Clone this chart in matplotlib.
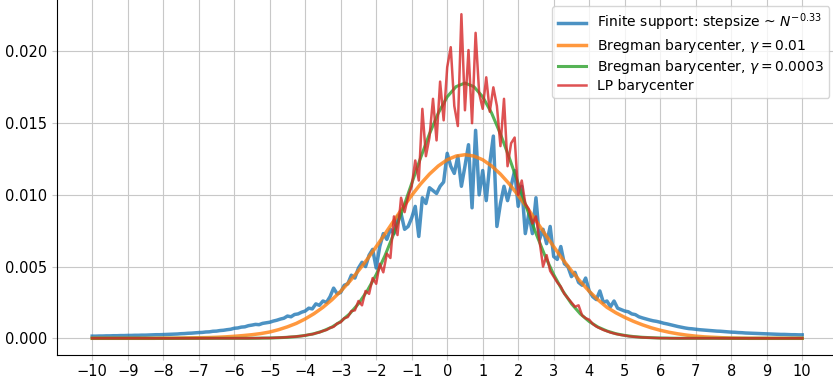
import numpy as np
import matplotlib
matplotlib.use("Agg")
import matplotlib.pyplot as plt

# grids on which the densities are given
x_fine = np.round(np.arange(-10, 10.001, 0.1), 2)      # 201 points
x_smooth = np.round(np.arange(-10, 10.001, 0.25), 2)   # 81 points

# finite support (noisy) density
finite_support = [
    0.00015, 0.00015, 0.00016, 0.00016, 0.00017, 0.00017, 0.00018, 0.00018, 0.00019, 0.00019,
    0.00020, 0.00020, 0.00021, 0.00021, 0.00022, 0.00022, 0.00023, 0.00024, 0.00025, 0.00025,
    0.00026, 0.00027, 0.00028, 0.00029, 0.00030, 0.00032, 0.00033, 0.00035, 0.00036, 0.00038,
    0.00040, 0.00041, 0.00044, 0.00045, 0.00049, 0.00050, 0.00054, 0.00056, 0.00060, 0.00063,
    0.00070, 0.00072, 0.00078, 0.00080, 0.00088, 0.00092, 0.00097, 0.00095, 0.00104, 0.00108,
    0.00112, 0.00120, 0.00126, 0.00134, 0.00140, 0.00155, 0.00150, 0.00166, 0.00170, 0.00182,
    0.00190, 0.00210, 0.00205, 0.00240, 0.00230, 0.00260, 0.00250, 0.00290, 0.00350, 0.00310,
    0.00320, 0.00370, 0.00380, 0.00440, 0.00420, 0.00490, 0.00530, 0.00500, 0.00580, 0.00620,
    0.00490, 0.00640, 0.00730, 0.00690, 0.00760, 0.00730, 0.00850, 0.00870, 0.00760, 0.00780,
    0.00840, 0.00920, 0.00710, 0.00980, 0.00940, 0.01050, 0.01030, 0.01010, 0.01060, 0.01090,
    0.01290, 0.01200, 0.01150, 0.01270, 0.01060, 0.01200, 0.01350, 0.00910, 0.01450, 0.01000,
    0.01170, 0.00960, 0.01220, 0.01410, 0.00780, 0.00940, 0.01060, 0.00960, 0.01060, 0.01170,
    0.00920, 0.01060, 0.00730, 0.00870, 0.00730, 0.00980, 0.00690, 0.00760, 0.00660, 0.00780,
    0.00570, 0.00550, 0.00640, 0.00520, 0.00500, 0.00430, 0.00460, 0.00390, 0.00370, 0.00420,
    0.00330, 0.00290, 0.00270, 0.00330, 0.00250, 0.00260, 0.00220, 0.00260, 0.00210, 0.00200,
    0.00190, 0.00185, 0.00170, 0.00165, 0.00150, 0.00142, 0.00135, 0.00128, 0.00122, 0.00118,
    0.00112, 0.00105, 0.00100, 0.00094, 0.00088, 0.00082, 0.00077, 0.00072, 0.00068, 0.00066,
    0.00063, 0.00060, 0.00058, 0.00056, 0.00054, 0.00052, 0.00050, 0.00049, 0.00047, 0.00045,
    0.00043, 0.00042, 0.00040, 0.00039, 0.00037, 0.00036, 0.00035, 0.00034, 0.00033, 0.00032,
    0.00031, 0.00030, 0.00029, 0.00028, 0.00027, 0.00027, 0.00026, 0.00025, 0.00025, 0.00024,
    0.00024,
]

# Bregman barycenter, gamma = 0.01
bregman_01 = [
    0, 0, 0, 0, 0, 0, 0, 0, 0.00001, 0.00001,
    0.00002, 0.00003, 0.00004, 0.00005, 0.00007, 0.00010, 0.00014, 0.00019, 0.00025, 0.00033,
    0.00044, 0.00060, 0.00080, 0.00104, 0.00135, 0.00172, 0.00216, 0.00268, 0.00328, 0.00396,
    0.00471, 0.00552, 0.00639, 0.00729, 0.00821, 0.00911, 0.00997, 0.01076, 0.01145, 0.01202,
    0.01245, 0.01271, 0.01280, 0.01271, 0.01245, 0.01202, 0.01145, 0.01076, 0.00997, 0.00911,
    0.00821, 0.00729, 0.00639, 0.00552, 0.00471, 0.00396, 0.00328, 0.00268, 0.00216, 0.00178,
    0.00146, 0.00118, 0.00094, 0.00073, 0.00056, 0.00042, 0.00031, 0.00022, 0.00015, 0.00010,
    0.00007, 0.00004, 0.00002, 0.00001, 0, 0, 0, 0, 0, 0, 0,
]

# Bregman barycenter, gamma = 0.0003
bregman_0003 = [
    0, 0, 0, 0, 0, 0, 0, 0, 0, 0,
    0, 0, 0, 0, 0, 0, 0, 0, 0, 0.00001,
    0.00002, 0.00004, 0.00007, 0.00012, 0.00020, 0.00032, 0.00051, 0.00078, 0.00117, 0.00170,
    0.00241, 0.00332, 0.00444, 0.00578, 0.00732, 0.00901, 0.01080, 0.01258, 0.01425, 0.01571,
    0.01684, 0.01755, 0.01780, 0.01755, 0.01684, 0.01571, 0.01425, 0.01258, 0.01080, 0.00901,
    0.00732, 0.00578, 0.00444, 0.00332, 0.00241, 0.00170, 0.00117, 0.00078, 0.00051, 0.00032,
    0.00020, 0.00012, 0.00007, 0.00004, 0.00002, 0.00001, 0, 0, 0, 0,
    0, 0, 0, 0, 0, 0, 0, 0, 0, 0, 0,
]

# LP barycenter (noisy)
lp_barycenter = (
    [0.0] * 45
    + [0.00001, 0.00001, 0.00001, 0.00002, 0.00002,
       0.00002, 0.00003, 0.00004, 0.00005, 0.00006, 0.00008, 0.00010, 0.00011, 0.00014, 0.00016,
       0.00020, 0.00025, 0.00028, 0.00036, 0.00041, 0.00052, 0.00058, 0.00073, 0.00080, 0.00103,
       0.00112, 0.00140, 0.00148, 0.00190, 0.00195, 0.00260, 0.00230, 0.00330, 0.00310, 0.00420,
       0.00380, 0.00520, 0.00460, 0.00590, 0.00560, 0.00850, 0.00720, 0.00980, 0.00880, 0.00990,
       0.01060, 0.01240, 0.01100, 0.01600, 0.01270, 0.01400, 0.01670, 0.01380, 0.01790, 0.01520,
       0.01890, 0.02030, 0.01620, 0.01480, 0.02260, 0.01590, 0.02010, 0.01500, 0.02130, 0.01710,
       0.01600, 0.01820, 0.01580, 0.01750, 0.01620, 0.01340, 0.01670, 0.01200, 0.01360, 0.01400,
       0.01000, 0.01100, 0.00940, 0.00900, 0.00800, 0.00850, 0.00680, 0.00500, 0.00580, 0.00470,
       0.00430, 0.00390, 0.00360, 0.00310, 0.00280, 0.00250, 0.00220, 0.00230, 0.00160, 0.00140,
       0.00130, 0.00100, 0.00082, 0.00070, 0.00058, 0.00050, 0.00040, 0.00034, 0.00028, 0.00023,
       0.00020, 0.00015, 0.00012, 0.00010, 0.00008, 0.00006, 0.00005, 0.00004, 0.00003, 0.00002,
       0.00001, 0.00001, 0.00001]
    + [0.0] * 38
)

labels = [
    r"Finite support: stepsize ~ $N^{-0.33}$",
    r"Bregman barycenter, $\gamma = 0.01$",
    r"Bregman barycenter, $\gamma = 0.0003$",
    "LP barycenter",
]

fig = plt.figure(figsize=(8.33, 3.81), dpi=100)
ax = fig.add_axes([56.7 / 833, 26.5 / 381, 781 / 833, 356.5 / 381])

ax.plot(x_fine, finite_support, color="C0", lw=2.5, alpha=0.8, label=labels[0])
ax.plot(x_smooth, bregman_01, color="C1", lw=2.5, alpha=0.8, label=labels[1])
ax.plot(x_smooth, bregman_0003, color="C2", lw=2.2, alpha=0.8, label=labels[2])
ax.plot(x_fine, lp_barycenter, color="C3", lw=1.8, alpha=0.8, label=labels[3])

ax.set_xlim(-11, 11)
ax.set_ylim(-0.00113, 0.02373)
ax.set_xticks(np.arange(-10, 11, 1))
ax.set_yticks([0.0, 0.005, 0.010, 0.015, 0.020])
ax.set_yticklabels(["0.000", "0.005", "0.010", "0.015", "0.020"])
ax.grid(True, color="#c8c8c8")
ax.spines["top"].set_visible(False)
ax.spines["right"].set_visible(False)
ax.tick_params(labelsize=10.5, color="#c8c8c8")

ax.legend(loc="upper right", fontsize=10, labelspacing=0.22,
          borderaxespad=0.6)

fig.savefig("out.png", dpi=100)
